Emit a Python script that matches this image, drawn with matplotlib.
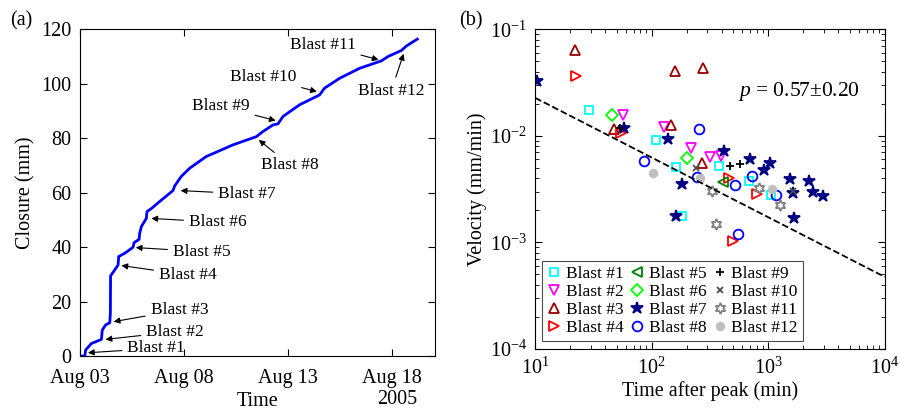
import numpy as np
import matplotlib
matplotlib.use("Agg")
import matplotlib.pyplot as plt
from matplotlib.ticker import LogLocator, NullFormatter

plt.rcParams['font.family'] = ['Liberation Serif', 'DejaVu Serif']
plt.rcParams['mathtext.fontset'] = 'custom'
plt.rcParams['mathtext.rm'] = 'Liberation Serif'
plt.rcParams['mathtext.it'] = 'Liberation Serif:italic'

# ---- panel (a): closure curve, days after Aug 03 2005 ----
days = [0.03, 0.23, 0.27, 0.55, 1.03, 1.07, 1.23, 1.43, 1.46, 1.47, 1.67, 1.83, 1.86,
        2.15, 2.55, 2.60, 2.84, 2.87, 2.95, 3.19, 3.22, 3.43, 3.83, 4.47, 4.55, 4.87,
        5.27, 6.07, 7.36, 8.48, 8.80, 9.28, 9.52, 9.76, 10.56, 11.52, 11.76, 12.48,
        13.45, 14.49, 14.81, 15.45, 15.70, 16.22]
closure = [0.0, 0.0, 2.2, 4.6, 6.1, 9.5, 11.4, 12.2, 15.7, 29.4, 31.6, 33.4, 36.5,
           37.7, 39.9, 41.6, 42.8, 45.0, 47.5, 50.5, 53.0, 54.1, 56.7, 60.7, 62.4, 65.9,
           68.9, 73.2, 77.5, 80.5, 82.4, 84.8, 85.2, 87.9, 92.2, 95.8, 98.3, 101.9,
           105.6, 108.3, 109.9, 112.1, 113.8, 116.3]

blast_names = ['Blast #%d' % i for i in range(1, 13)]
# arrow tips (day, mm) and text anchor (day, mm, left-aligned)
tip_day = [0.38, 1.23, 1.62, 1.99, 2.68, 3.43, 4.84, 8.60, 9.41, 11.39, 14.36, 15.56]
tip_mm = [1.2, 6.1, 12.6, 33.2, 39.8, 50.5, 60.7, 79.3, 86.4, 97.0, 108.7, 110.9]
txt_day = [2.28, 3.19, 3.40, 3.80, 4.47, 5.24, 6.65, 8.69, 5.38, 7.20, 10.08, 13.37]
txt_mm = [2.8, 8.9, 16.9, 29.7, 38.3, 49.1, 59.5, 70.1, 91.6, 102.3, 114.2, 97.4]

# ---- panel (b): velocity decay after each blast ----
t1 = [29.0, 108, 160, 380, 181, 678, 1054]
v1 = [0.0175, 0.0091, 0.00508, 0.0052, 0.00178, 0.00379, 0.00278]
t2 = [56.4, 127, 216, 314, 393]
v2 = [0.0156, 0.0121, 0.00766, 0.00631, 0.0064]
t3 = [22.0, 158.5, 275, 47.9, 147.5, 268]
v3 = [0.0635, 0.041, 0.0434, 0.0117, 0.0125, 0.00554]
t4 = [22.4, 54.2, 463, 795, 501]
v4 = [0.0362, 0.0107, 0.00398, 0.00286, 0.00103]
t5 = [408]
v5 = [0.00368]
t6 = [45.7, 202]
v6 = [0.0156, 0.00618]
t7 = [10.3, 58, 137, 183, 161, 414, 702, 912, 1033, 1534, 2218, 2432, 2960, 1638, 1660]
v7 = [0.033, 0.0119, 0.00924, 0.0035, 0.00175, 0.00713, 0.00608, 0.0048, 0.00558,
      0.0039, 0.00373, 0.00296, 0.00272, 0.00288, 0.00169]
t8 = [86.5, 256, 245, 518, 729, 1156, 553]
v8 = [0.00583, 0.01155, 0.0041, 0.00345, 0.00422, 0.00278, 0.00119]
t9 = [53.5, 467, 568]
v9 = [0.0119, 0.0052, 0.00539]
t10 = [240, 1617]
v10 = [0.00494, 0.00302]
t11 = [331, 358, 832, 1268]
v11 = [0.00301, 0.00148, 0.00325, 0.00226]
t12 = [102, 258, 1069]
v12 = [0.0045, 0.00401, 0.00314]

fit_amp = 0.0227   # velocity at t = 10 min
fit_p = 0.56

hexagram = (6, 1, 0)
styles = [('s', (0, 1, 1), False), ('v', (1, 0, 1), False), ('^', (0.6, 0, 0), False),
          ('>', (1, 0, 0), False), ('<', (0, 0.5, 0), False), ('D', (0, 1, 0), False),
          ('*', (0, 0, 0.5), True), ('o', (0, 0, 1), False), ('+', (0, 0, 0), False),
          ('x', (0.3, 0.3, 0.3), False), (hexagram, (0.5, 0.5, 0.5), False),
          ('o', (0.75, 0.75, 0.75), True)]
sizes = [6, 7, 7, 7, 7, 6, 9, 7, 6, 5, 8, 5.5]

fig = plt.figure(figsize=(9.01, 4.12), dpi=100)
ax1 = fig.add_axes([0.0888, 0.1359, 0.394, 0.7937])
ax2 = fig.add_axes([0.594, 0.153, 0.388, 0.776])

ax1.plot(days, closure, color='b', lw=2)
for i in range(12):
    ax1.annotate(blast_names[i], xy=(tip_day[i], tip_mm[i]), xytext=(txt_day[i], txt_mm[i]),
                 fontsize=12.5, ha='left', va='center',
                 arrowprops=dict(arrowstyle='-|>', color='k', lw=0.8, mutation_scale=9,
                                 shrinkA=2, shrinkB=0))
ax1.set_xlim(0, 17.07)
ax1.set_ylim(0, 120)
ax1.set_xticks([0, 5, 10, 15])
ax1.set_xticklabels(['Aug 03', 'Aug 08', 'Aug 13', 'Aug 18'])
ax1.set_yticks(np.arange(0, 121, 20))
ax1.tick_params(direction='in', top=True, right=True, labelsize=14.5, length=5, pad=6)
ax1.tick_params(axis='x', pad=9)
ax1.set_xlabel('Time', fontsize=14.5, labelpad=3)
ax1.set_ylabel('Closure (mm)', fontsize=14.5, labelpad=4)
ax1.annotate('2005', xy=(15.24, 0), xycoords=('data', 'axes fraction'), xytext=(0, -43),
             textcoords='offset pixels', ha='center', va='center', fontsize=14.5)
fig.text(0.011, 0.95, '(a)', fontsize=14.5, va='center')

ts = [t1, t2, t3, t4, t5, t6, t7, t8, t9, t10, t11, t12]
vs = [v1, v2, v3, v4, v5, v6, v7, v8, v9, v10, v11, v12]
for i in range(12):
    m, c, filled = styles[i]
    ax2.plot(ts[i], vs[i], linestyle='none', marker=m, ms=sizes[i], mew=1.3,
             mec=c, mfc=c if filled else 'none', label=blast_names[i])
tt = np.array([10, 1e4])
ax2.plot(tt, fit_amp * (tt / 10) ** (-fit_p), 'k--', lw=1.3)
ax2.set_xscale('log')
ax2.set_yscale('log')
ax2.set_xlim(10, 1e4)
ax2.set_ylim(1e-4, 1e-1)
ax2.xaxis.set_minor_locator(LogLocator(subs=np.arange(2, 10)))
ax2.yaxis.set_minor_locator(LogLocator(subs=np.arange(2, 10)))
ax2.xaxis.set_minor_formatter(NullFormatter())
ax2.yaxis.set_minor_formatter(NullFormatter())
ax2.tick_params(which='both', direction='in', top=True, right=True, labelsize=14.5, pad=6)
ax2.tick_params(which='major', length=5)
ax2.tick_params(which='minor', length=3)
ax2.set_xlabel('Time after peak (min)', fontsize=14.5, labelpad=2)
ax2.set_ylabel('Velocity (mm/min)', fontsize=14.5, labelpad=2)
ax2.text(0.58, 0.805, r'$p$ = 0.57$\pm$0.20', transform=ax2.transAxes, fontsize=15.5, va='center')
leg = ax2.legend(ncol=3, loc='lower left', bbox_to_anchor=(0.02, 0.025), fontsize=12.5,
                 handletextpad=0.25, columnspacing=0.4, labelspacing=0.1, handlelength=0.8,
                 borderpad=0.3, borderaxespad=0, fancybox=False, framealpha=1)
leg.get_frame().set_edgecolor('0.3')
leg.get_frame().set_linewidth(0.8)
fig.text(0.51, 0.95, '(b)', fontsize=14.5, va='center')

fig.savefig('out.png', dpi=100)
